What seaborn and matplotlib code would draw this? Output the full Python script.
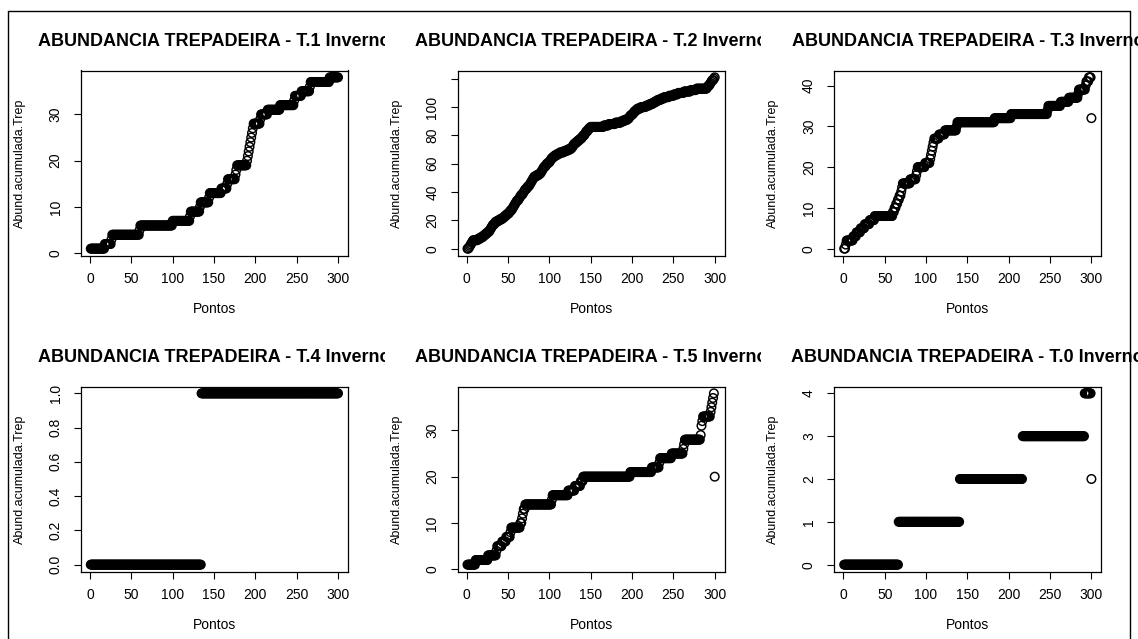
import numpy as np
import pandas as pd
import matplotlib
matplotlib.use("Agg")
import matplotlib.pyplot as plt
import seaborn as sns
from matplotlib.transforms import Bbox, TransformedBbox
from matplotlib.lines import Line2D

# ---------------- data ----------------
titles = [
    "ABUNDANCIA TREPADEIRA - T.1 Inverno",
    "ABUNDANCIA TREPADEIRA - T.2 Inverno",
    "ABUNDANCIA TREPADEIRA - T.3 Inverno",
    "ABUNDANCIA TREPADEIRA - T.4 Inverno",
    "ABUNDANCIA TREPADEIRA - T.5 Inverno",
    "ABUNDANCIA TREPADEIRA - T.0 Inverno",
]
x_label = "Pontos"
y_label = "Abund.acumulada.Trep"
x_ticks = [0, 50, 100, 150, 200, 250, 300]

# cumulative abundance as (level, number of consecutive points at that level)
t1_levels = [1, 2, 3, 4, 5, 6, 7, 8, 9, 10, 11, 12, 13, 14, 15, 16, 17, 18, 19,
             20, 21, 22, 23, 24, 25, 26, 27, 28, 29, 30, 31, 32, 33, 34, 35, 36, 37, 38]
t1_runs = [17, 8, 1, 33, 1, 39, 21, 1, 11, 1, 10, 1, 14, 7, 1, 9, 1, 1, 12,
           1, 1, 1, 1, 1, 1, 1, 1, 8, 1, 8, 15, 17, 1, 8, 10, 1, 23, 11]

t2_levels = [0, 1, 2, 3, 4, 5, 6, 7, 8, 9, 10, 11, 12, 13, 14, 15, 16, 17, 18, 19,
             20, 21, 22, 23, 24, 25, 26, 27, 28, 29, 30, 31, 32, 33, 34, 35, 36, 37, 38, 39,
             40, 41, 42, 43, 44, 45, 46, 47, 48, 49, 50, 51, 52, 53, 54, 55, 56, 57, 58, 59,
             60, 61, 62, 63, 64, 65, 66, 67, 68, 69, 70, 71, 72, 73, 74, 75, 76, 77, 78, 79,
             80, 81, 82, 83, 84, 85, 86, 87, 88, 89, 90, 91, 92, 93, 94, 95, 96, 97, 98, 99,
             100, 101, 102, 103, 104, 105, 106, 107, 108, 109, 110, 111, 112, 113, 114, 115,
             116, 117, 118, 119, 120, 121]
t2_runs = [2, 1, 1, 1, 1, 1, 6, 3, 3, 2, 2, 2, 2, 1, 1, 1, 1, 2, 1, 3,
           3, 3, 2, 2, 2, 2, 1, 2, 1, 1, 1, 1, 1, 1, 2, 1, 1, 1, 2, 1,
           1, 1, 2, 1, 2, 1, 1, 1, 1, 1, 1, 3, 3, 2, 1, 1, 1, 1, 2, 1,
           2, 2, 1, 1, 2, 2, 3, 3, 5, 4, 4, 2, 1, 1, 2, 2, 2, 2, 2, 1,
           2, 1, 1, 2, 1, 2, 16, 6, 8, 7, 4, 4, 2, 1, 2, 2, 1, 2, 2, 4,
           6, 4, 4, 3, 3, 4, 4, 6, 6, 5, 7, 8, 7, 13, 1, 2,
           1, 1, 1, 2, 1, 1]

t3_levels = [0, 1, 2, 3, 4, 5, 6, 7, 8, 9, 10, 11, 12, 13, 14, 15, 16, 17, 18, 19,
             20, 21, 22, 23, 24, 25, 26, 27, 28, 29, 30, 31, 32, 33, 34, 35, 36, 37, 38, 39,
             40, 41, 42, 32]
t3_runs = [2, 1, 8, 4, 5, 5, 6, 6, 22, 2, 2, 2, 2, 2, 1, 1, 9, 7, 1, 1,
           9, 6, 1, 1, 1, 1, 1, 6, 7, 14, 1, 45, 20, 44, 1, 15, 10, 11, 1, 8,
           1, 3, 3, 1]

t4_levels = [0, 1]
t4_runs = [134, 166]

t5_levels = [1, 2, 3, 4, 5, 6, 7, 8, 9, 10, 11, 12, 13, 14, 15, 16, 17, 18, 19, 20,
             21, 22, 23, 24, 25, 26, 27, 28, 29, 31, 32, 33, 34, 35, 36, 37, 38, 20]
t5_runs = [10, 15, 10, 1, 6, 5, 5, 1, 11, 2, 1, 1, 2, 32, 1, 19, 8, 7, 3, 57,
           26, 9, 1, 14, 14, 1, 1, 19, 1, 1, 1, 9, 1, 1, 1, 1, 1, 1]

t0_levels = [0, 1, 2, 3, 4, 2]
t0_runs = [66, 74, 76, 75, 8, 1]

panels = [
    (t1_levels, t1_runs, [0, 10, 20, 30], ["0", "10", "20", "30"]),
    (t2_levels, t2_runs, [0, 20, 40, 60, 80, 100, 120], ["0", "20", "40", "60", "80", "100", ""]),
    (t3_levels, t3_runs, [0, 10, 20, 30, 40], ["0", "10", "20", "30", "40"]),
    (t4_levels, t4_runs, [0.0, 0.2, 0.4, 0.6, 0.8, 1.0], ["0.0", "0.2", "0.4", "0.6", "0.8", "1.0"]),
    (t5_levels, t5_runs, [0, 10, 20, 30], ["0", "10", "20", "30"]),
    (t0_levels, t0_runs, [0, 1, 2, 3, 4], ["0", "1", "2", "3", "4"]),
]

# ---------------- style ----------------
sns.set_style("ticks")
plt.rcParams["font.family"] = ["Liberation Sans", "DejaVu Sans"]

W, H = 1138, 639
fig = plt.figure(figsize=(W / 100, H / 100), dpi=100)
fig.patch.set_facecolor("white")

col_left = [80.9, 457.6, 834.3]
col_region = [(8.0, 384.7), (384.7, 761.3), (761.3, 1138.0)]
row_top = [70.5, 386.5]
title_y = [41.7, 357.7]
box_w, box_h = 267.0, 185.0

for i, (levels, runs, yt, ytl) in enumerate(panels):
    r, c = divmod(i, 3)
    left, top = col_left[c], row_top[r]
    ax = fig.add_axes([left / W, 1 - (top + box_h) / H, box_w / W, box_h / H])

    y = np.repeat(np.asarray(levels, dtype=float), runs)
    x = np.arange(1, len(y) + 1)
    df = pd.DataFrame({x_label: x, y_label: y})
    sns.scatterplot(data=df, x=x_label, y=y_label, ax=ax, marker="o", s=38,
                    color="black", facecolor="none", edgecolor="black",
                    linewidth=1.05, legend=False, zorder=3)

    xpad = 0.04 * (x.max() - x.min())
    ypad = 0.04 * (y.max() - y.min())
    ax.set_xlim(x.min() - xpad, x.max() + xpad)
    ax.set_ylim(y.min() - ypad, y.max() + ypad)
    ax.set_xticks(x_ticks)
    ax.set_xticklabels([str(v) for v in x_ticks])
    ax.set_yticks(yt)
    ax.set_yticklabels(ytl, rotation=90, va="center")

    for sp in ax.spines.values():
        sp.set_visible(True)
        sp.set_color("black")
        sp.set_linewidth(0.9)
    ax.tick_params(axis="both", direction="out", length=5.2, width=0.8,
                   color="black", labelcolor="black", labelsize=10)
    ax.tick_params(axis="x", pad=6.8)
    ax.tick_params(axis="y", pad=8.0)

    ax.set_xlabel(x_label, fontsize=10, color="black")
    ax.set_ylabel(y_label, fontsize=9.0, color="black")
    ax.xaxis.set_label_coords(0.5, -46.5 / box_h)
    ax.yaxis.set_label_coords(-55.0 / box_w, 0.5)
    ax.grid(False)

    cx = (left + box_w / 2) / W
    t = fig.text(cx, 1 - title_y[r] / H, titles[i], ha="center", va="center",
                 fontsize=13, fontweight="bold", color="black")
    x0, x1 = col_region[c]
    clip = TransformedBbox(Bbox([[x0 / W, 0.0], [x1 / W, 1.0]]), fig.transFigure)
    t.set_clip_on(True)
    t.set_clip_box(clip)

# outer frame of the screenshot
lw = 1.0
fig.add_artist(Line2D([8 / W, 8 / W], [0, 1 - 11 / H], transform=fig.transFigure,
                      color="black", linewidth=lw))
fig.add_artist(Line2D([8 / W, 1130 / W], [1 - 11 / H, 1 - 11 / H], transform=fig.transFigure,
                      color="black", linewidth=lw))
fig.add_artist(Line2D([1130 / W, 1130 / W], [0, 1 - 11 / H], transform=fig.transFigure,
                      color="black", linewidth=lw))

fig.savefig("out.png", dpi=100, facecolor="white")
